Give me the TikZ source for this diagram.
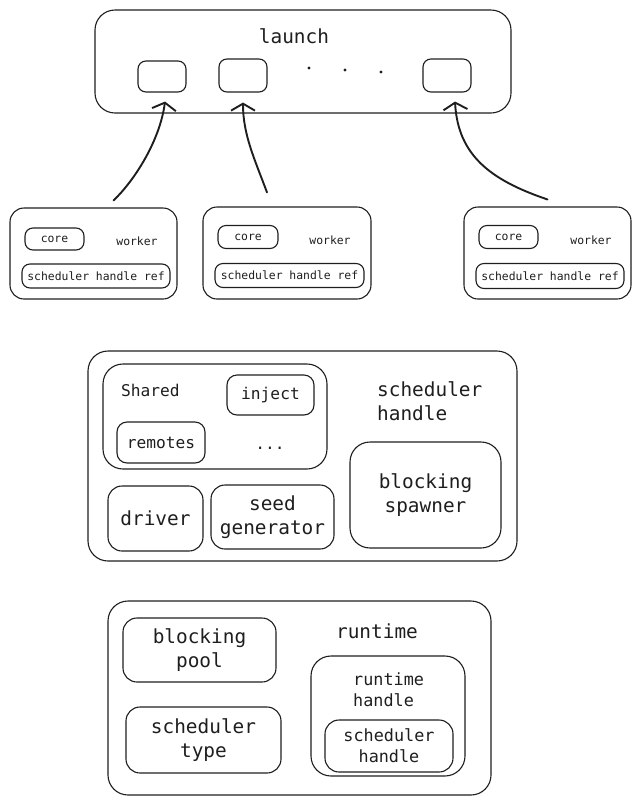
\documentclass[tikz,border=0pt]{standalone}
\usepackage{fontspec}
\setmonofont{DejaVu Sans Mono}
\usetikzlibrary{arrows.meta}
\definecolor{ink}{HTML}{1E1E1E}
\newcommand\fbig{\ttfamily\fontsize{19.4}{24}\selectfont}
\newcommand\fmid{\ttfamily\fontsize{16.2}{21}\selectfont}
\newcommand\fsub{\ttfamily\fontsize{16.8}{21}\selectfont}
\newcommand\fsml{\ttfamily\fontsize{11.4}{14}\selectfont}
\tikzset{
  bx/.style  = {draw=ink, line width=1.1pt, rounded corners=8pt, text=ink,
                align=center, inner sep=0pt},
  bg/.style  = {bx, rounded corners=20pt},
  bm/.style  = {bx, rounded corners=14pt},
  bl/.style  = {bx, font=\fbig},
  tx/.style  = {text=ink, inner sep=0pt, align=left},
  a/.style   = {-{Straight Barb[length=7pt,width=24pt]}, line width=1.9pt,
                draw=ink, line cap=round},
}
\begin{document}
\begin{tikzpicture}[x=1pt, y=-1pt]
\useasboundingbox (0,0) rectangle (642,804);

% ---- launch
\node[bg, minimum width=416pt, minimum height=103pt] (launch) at (303,61.5) {};
\node[tx, font=\fbig] (launchT) at (294,36) {launch};
\node[bx, minimum width=48pt, minimum height=31pt] (s1) at (162,76.5) {};
\node[bx, minimum width=48pt, minimum height=33pt] (s2) at (243,75.5) {};
\node[bx, minimum width=48pt, minimum height=33pt] (s3) at (447,75.5) {};
\foreach \x/\y in {309/68, 345/70, 381/72}
  \fill[ink] (\x,\y) circle (1.7pt);

% ---- workers
\node[bm, minimum width=167pt, minimum height=91pt] (w1) at (93.5,253.5) {};
\node[bx, font=\fsml, minimum width=59pt, minimum height=22pt] (c1) at (54.5,239) {core};
\node[tx, font=\fsml] (w1T) at (137,241) {worker};
\node[bx, font=\fsml, minimum width=148pt, minimum height=24pt] (r1) at (96,276) {scheduler handle ref};

\node[bm, minimum width=168pt, minimum height=92pt] (w2) at (287,253) {};
\node[bx, font=\fsml, minimum width=60pt, minimum height=23pt] (c2) at (248,237) {core};
\node[tx, font=\fsml] (w2T) at (330,240) {worker};
\node[bx, font=\fsml, minimum width=149pt, minimum height=24pt] (r2) at (289.5,275.5) {scheduler handle ref};

\node[bm, minimum width=167pt, minimum height=92pt] (w3) at (547.5,253) {};
\node[bx, font=\fsml, minimum width=59pt, minimum height=23pt] (c3) at (508.5,237) {core};
\node[tx, font=\fsml] (w3T) at (591,240) {worker};
\node[bx, font=\fsml, minimum width=148pt, minimum height=25pt] (r3) at (550,276) {scheduler handle ref};

% ---- workers into launch
\draw[a] ([xshift=20pt,yshift=7pt]w1.north) .. controls (135,180) and (160,140) .. ([xshift=3pt,yshift=-9pt]s1.south);
\draw[a] ([xshift=-20pt,yshift=14pt]w2.north) .. controls (255,160) and (243,135) .. ([yshift=-10pt]s2.south);
\draw[a] ([yshift=7pt]w3.north) .. controls (490,180) and (458,155) .. ([xshift=8pt,yshift=-9pt]s3.south);

% ---- scheduler handle
\node[bg, minimum width=429pt, minimum height=210pt] (sh) at (302.5,456) {};
\node[tx, font=\fbig, anchor=west] (shT) at (377,401) {scheduler\\handle};
\node[bg, minimum width=224pt, minimum height=105pt] (shared) at (215,416.5) {};
\node[tx, font=\fmid, anchor=west] (sharedT) at (121,390) {Shared};
\node[bx, font=\fmid, rounded corners=10pt, minimum width=87pt, minimum height=40pt] (inject) at (270.5,395) {inject};
\node[bx, font=\fmid, rounded corners=10pt, minimum width=88pt, minimum height=41pt] (remotes) at (161,442.5) {remotes};
\node[tx, font=\fmid] (more) at (270,448) {...};
\node[bl, rounded corners=20pt, minimum width=151pt, minimum height=106pt] (spawner) at (425.5,495) {blocking\\spawner};
\node[bl, rounded corners=14pt, minimum width=95pt, minimum height=65pt] (driver) at (155.5,518.5) {driver};
\node[bl, rounded corners=14pt, minimum width=123pt, minimum height=64pt] (seed) at (272.5,517) {seed\\generator};

% ---- runtime
\node[bg, minimum width=383pt, minimum height=194pt] (rt) at (299.5,698) {};
\node[tx, font=\fbig] (rtT) at (377,631) {runtime};
\node[bl, rounded corners=14pt, minimum width=153pt, minimum height=64pt] (pool) at (199.5,650) {blocking\\pool};
\node[bl, rounded corners=14pt, minimum width=155pt, minimum height=66pt] (stype) at (203.5,740) {scheduler\\type};
\node[bg, minimum width=154pt, minimum height=120pt] (rh) at (388,716) {};
\node[tx, font=\fsub, anchor=west] (rhT) at (353,690) {runtime\\handle};
\node[bx, font=\fsub, rounded corners=14pt, minimum width=128pt, minimum height=52pt] (rsh) at (389,746) {scheduler\\handle};

\end{tikzpicture}
\end{document}
